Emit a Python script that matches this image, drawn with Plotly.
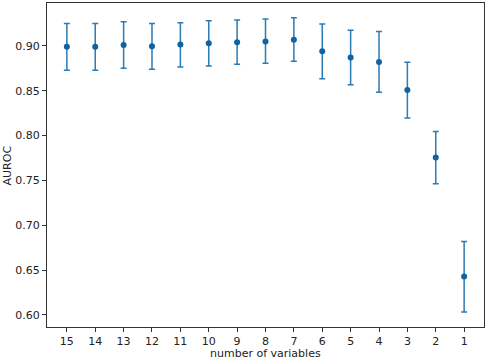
import plotly.graph_objects as go

n_vars = [15, 14, 13, 12, 11, 10, 9, 8, 7, 6, 5, 4, 3, 2, 1]
auroc = [0.899, 0.899, 0.901, 0.8997, 0.9015, 0.903, 0.904, 0.905, 0.907, 0.894, 0.887, 0.882, 0.851, 0.7756, 0.6428]
err_upper = [0.925, 0.925, 0.927, 0.925, 0.926, 0.928, 0.929, 0.930, 0.9315, 0.9245, 0.9175, 0.916, 0.8818, 0.8046, 0.682]
err_lower = [0.873, 0.873, 0.875, 0.874, 0.8766, 0.8777, 0.8796, 0.8807, 0.883, 0.8633, 0.8566, 0.8484, 0.8198, 0.7463, 0.6034]
y_ticks = [0.60, 0.65, 0.70, 0.75, 0.80, 0.85, 0.90]

plus = [u - a for u, a in zip(err_upper, auroc)]
minus = [a - l for a, l in zip(auroc, err_lower)]

fig = go.Figure(go.Scatter(
    x=n_vars, y=auroc, mode="markers",
    marker=dict(color="#0f63a3", size=6),
    error_y=dict(type="data", symmetric=False, array=plus, arrayminus=minus,
                 color="#2b7bb5", thickness=1.5, width=3),
    showlegend=False,
))

font = dict(family="DejaVu Sans", size=11, color="#222222")
axis_common = dict(showline=True, linecolor="#333333", linewidth=1, mirror=True,
                   ticks="outside", ticklen=4, tickcolor="#333333", tickwidth=1,
                   showgrid=False, zeroline=False, automargin=False,
                   tickfont=font)

fig.update_layout(
    width=487, height=361,
    margin=dict(l=47, r=3, t=3, b=34),
    paper_bgcolor="white", plot_bgcolor="white",
    xaxis=dict(range=[15.7, 0.3], tickvals=n_vars, ticktext=[str(v) for v in n_vars],
               **axis_common),
    yaxis=dict(range=[0.5866, 0.9479], tickvals=y_ticks, ticktext=[f"{v:.2f}" for v in y_ticks],
               **axis_common),
    annotations=[
        dict(text="number of variables", xref="paper", yref="paper", x=0.5, y=-0.083,
             xanchor="center", yanchor="middle", showarrow=False, font=font),
        dict(text="AUROC", xref="paper", yref="paper", x=-0.0905, y=0.5,
             xanchor="center", yanchor="middle", showarrow=False, textangle=-90, font=font),
    ],
)

fig.write_html("out.html", config={"displayModeBar": False},
               post_script="document.body.style.margin='0';")
